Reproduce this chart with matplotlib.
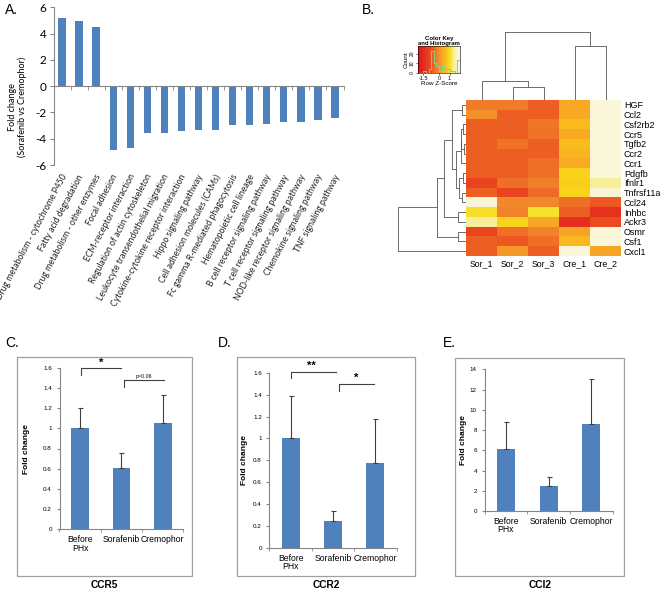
import numpy as np
import matplotlib
matplotlib.use("Agg")
import matplotlib.pyplot as plt
from matplotlib.colors import LinearSegmentedColormap
from matplotlib.patches import Rectangle

# ---------------- data ----------------
pathways = [
    "Drug metabolism - cytochrome P450",
    "Fatty acid degradation",
    "Drug metabolism - other enzymes",
    "Focal adhesion",
    "ECM-receptor interaction",
    "Regulation of actin cytoskeleton",
    "Leukocyte transendothelial migration",
    "Cytokine-cytokine receptor interaction",
    "Hippo signaling pathway",
    "Cell adhesion molecules (CAMs)",
    "Fc gamma R-mediated phagocytosis",
    "Hematopoietic cell lineage",
    "B cell receptor signaling pathway",
    "T cell receptor signaling pathway",
    "NOD-like receptor signaling pathway",
    "Chemokine signaling pathway",
    "TNF signaling pathway",
]
pathway_fold = [5.2, 4.95, 4.5, -4.85, -4.72, -3.57, -3.57, -3.45, -3.35, -3.35,
                -2.95, -2.95, -2.9, -2.73, -2.73, -2.56, -2.4]
a_yticks = [-6, -4, -2, 0, 2, 4, 6]

genes = ["HGF", "Ccl2", "Csf2rb2", "Ccr5", "Tgfb2", "Ccr2", "Ccr1", "Pdgfb", "Ifnlr1",
         "Tnfrsf11a", "Ccl24", "Inhbc", "Ackr3", "Osmr", "Csf1", "Cxcl1"]
samples = ["Sor_1", "Sor_2", "Sor_3", "Cre_1", "Cre_2"]
zscore = [
    [-0.25, -0.25, -0.6, 0.3, 1.8],
    [0.0, -0.6, -0.6, 0.3, 1.8],
    [-0.6, -0.6, -0.3, 0.6, 1.8],
    [-0.6, -0.6, -0.35, 0.3, 1.8],
    [-0.6, -0.35, -0.6, 0.6, 1.8],
    [-0.6, -0.6, -0.6, 0.5, 1.8],
    [-0.6, -0.6, -0.4, 0.35, 1.8],
    [-0.6, -0.6, -0.4, 0.9, 1.8],
    [-0.95, -0.4, -0.2, 0.85, 1.4],
    [-0.6, -0.95, -0.45, 0.9, 1.75],
    [1.8, -0.1, -0.1, -0.4, -0.7],
    [1.05, -0.15, 1.1, -0.6, -1.3],
    [1.4, 0.9, 0.3, -1.35, -0.85],
    [-0.95, -0.4, -0.15, 0.25, 1.8],
    [-0.6, -0.7, -0.4, 0.55, 1.8],
    [-0.6, 0.1, -0.6, 1.8, 0.25],
]
# dendrograms: (left, right, height) with leaf indices
col_tree = ((0, (1, 2, 0.19), 0.28), (3, 4, 0.8), 1.0)
row_tree = (
    ((((0, 1, 0.06),
       (((((2, 3, 0.04), (4, 5, 0.03), 0.07), 6, 0.08),
         ((7, 8, 0.05), (9, 10, 0.06), 0.1), 0.14)), 0.21),
      (11, 12, 0.12), 0.32),
     (13, 14, 0.12), 0.42),
    15, 1.0)
key_ticks = [-1.5, 0, 1]
count_ticks = [0, 10, 20]

groups = ["Before\nPHx", "Sorafenib", "Cremophor"]
ccr5_mean = [1.0, 0.61, 1.05]
ccr5_err = [0.2, 0.15, 0.28]
ccr2_mean = [1.0, 0.25, 0.78]
ccr2_err = [0.39, 0.09, 0.40]
ccl2_mean = [6.1, 2.5, 8.6]
ccl2_err = [2.65, 0.85, 4.45]
# significance brackets: (x_left, x_right, y_line, y_drop, label, label_x, label_y, size)
ccr5_sig = [(0.02, 1.0, 1.6, 1.53, "*", 0.5, 1.6, 8), (1.06, 2.02, 1.48, 1.41, "p=0.06", 1.55, 1.49, 3.8)]
ccr2_sig = [(0.0, 1.08, 1.61, 1.55, "**", 0.5, 1.615, 8), (1.14, 1.97, 1.50, 1.43, "*", 1.55, 1.505, 8)]

# ---------------- figure ----------------
W, H = 660, 591
fig = plt.figure(figsize=(W / 100, H / 100), dpi=100)


def px_axes(l, t, r, b):
    return fig.add_axes([l / W, 1 - b / H, (r - l) / W, (b - t) / H])


AX_GRAY = "#868686"
BLUE = "#4F81BD"
ARIAL = "Liberation Sans"
CAL = "Lato"

# ---------------- Panel A ----------------
axA = px_axes(53.5, 7.3, 343.5, 165)
xa = np.arange(len(pathways))
axA.bar(xa, pathway_fold, width=0.43, color=BLUE, zorder=2)
axA.set_xlim(-0.5, len(pathways) - 0.5)
axA.set_ylim(-6, 6)
for s in ["top", "right"]:
    axA.spines[s].set_visible(False)
axA.spines["bottom"].set_position(("data", 0))
for s in ["left", "bottom"]:
    axA.spines[s].set_color(AX_GRAY)
    axA.spines[s].set_linewidth(0.8)
axA.set_yticks(a_yticks)
axA.set_yticklabels([str(v) for v in a_yticks], fontsize=8.5, family=CAL)
axA.tick_params(axis="y", direction="out", length=3, color=AX_GRAY, pad=2)
axA.set_xticks([])
axA.set_xticks(np.arange(-0.5, len(pathways)), minor=True)
axA.tick_params(axis="x", which="minor", direction="out", length=3, color=AX_GRAY)
for i, name in enumerate(pathways):
    axA.text(i + 0.15, -6.75, name, rotation=62, ha="right", va="center",
             rotation_mode="anchor", fontsize=6.2, family=CAL, color="#222222")
axA.set_ylabel("Fold change\n(Sorafenib vs Cremophor)", fontsize=6.5, family=CAL,
               linespacing=1.1)
axA.yaxis.set_label_coords(-0.09, 0.37)
fig.text(5 / W, 1 - 10 / H, "A.", fontsize=10, family=ARIAL, va="center")

# ---------------- Panel B ----------------
stops = [(-2.0, "#E0161B"), (-1.35, "#E5301F"), (-0.95, "#E9441F"), (-0.6, "#EE5F24"),
         (-0.25, "#F07B28"), (0.0, "#F4912B"), (0.3, "#F8A823"), (0.6, "#FABB1E"),
         (0.9, "#FAD31C"), (1.1, "#F6E22C"), (1.4, "#F6EE98"), (1.8, "#FAF6DA"),
         (2.0, "#FBF8E2")]
cmap = LinearSegmentedColormap.from_list("heatkey", [((z + 2) / 4, c) for z, c in stops])

Z = np.array(zscore)
axH = px_axes(466, 100, 621, 256)
axH.imshow(Z, cmap=cmap, vmin=-2, vmax=2, aspect="auto", interpolation="nearest")
for s in axH.spines.values():
    s.set_visible(False)
axH.yaxis.tick_right()
axH.set_yticks(range(len(genes)))
axH.set_yticklabels(genes, fontsize=6.5, family=ARIAL)
axH.set_xticks(range(len(samples)))
axH.set_xticklabels(samples, fontsize=6.3, family=ARIAL)
axH.tick_params(length=0, pad=2)


def draw_tree(ax, node, vertical):
    if isinstance(node, int):
        return node + 0.5, 0.0
    l, r, h = node
    pl, hl = draw_tree(ax, l, vertical)
    pr, hr = draw_tree(ax, r, vertical)
    xs = [pl, pl, pr, pr]
    ys = [hl, h, h, hr]
    if vertical:
        ax.plot(xs, ys, color="#555555", lw=0.6, solid_capstyle="butt")
    else:
        ax.plot(ys, xs, color="#555555", lw=0.6, solid_capstyle="butt")
    return (pl + pr) / 2, h


axC = px_axes(466, 25, 621, 100)
draw_tree(axC, col_tree, True)
axC.set_xlim(0, len(samples))
axC.set_ylim(0, 75 / 68)
axC.axis("off")

axR = px_axes(396, 100, 466, 256)
draw_tree(axR, row_tree, False)
axR.set_ylim(len(genes), 0)
axR.set_xlim(70 / 68, 0)
axR.axis("off")

# color key with histogram
axK = px_axes(418, 46, 460, 73)
axK.imshow(np.linspace(-2, 2, 256)[None, :], cmap=cmap, aspect="auto",
           extent=(-2, 2, 0, 28), vmin=-2, vmax=2)
counts, edges = np.histogram(Z.ravel(), bins=np.linspace(-2, 2, 17))
axK.step(edges, np.r_[counts, counts[-1]], where="post", color="#7FD38A", lw=0.7)
axK.set_xlim(-2, 2)
axK.set_ylim(0, 28)
axK.set_xticks(key_ticks)
axK.set_xticklabels(["-1.5", "0", "1"], fontsize=4, family=ARIAL)
axK.set_yticks(count_ticks)
axK.set_yticklabels([str(v) for v in count_ticks], fontsize=3.5, family=ARIAL,
                    rotation=90, va="center")
axK.tick_params(length=1.5, width=0.4, pad=1)
for s in axK.spines.values():
    s.set_linewidth(0.4)
axK.set_xlabel("Row Z-Score", fontsize=4.5, family=ARIAL, labelpad=0)
axK.set_ylabel("Count", fontsize=4.5, family=ARIAL, labelpad=1)
axK.set_title("Color Key\nand Histogram", fontsize=4.3, family=ARIAL,
              fontweight="bold", pad=1, linespacing=1.0)
fig.text(362 / W, 1 - 10 / H, "B.", fontsize=10, family=ARIAL, va="center")


# ---------------- Panels C-E ----------------
def bar_panel(border, box, ymax, yticks, ylabels, means, errs, title, letter, letter_x,
              sig, ylabel_x):
    bl, bt, br, bb = border
    fig.patches.append(Rectangle((bl / W, 1 - bb / H), (br - bl) / W, (bb - bt) / H,
                                 transform=fig.transFigure, fill=False,
                                 edgecolor="#A0A0A0", lw=0.9))
    ax = px_axes(*box)
    x = np.arange(len(groups))
    ax.bar(x, means, width=0.42, color=BLUE, zorder=2)
    ax.errorbar(x, means, yerr=[np.zeros(len(errs)), errs], fmt="none",
                ecolor="#404040", elinewidth=0.8, capsize=1.8, capthick=0.8, zorder=3)
    ax.set_xlim(-0.5, len(groups) - 0.5)
    ax.set_ylim(0, ymax)
    for s in ["top", "right"]:
        ax.spines[s].set_visible(False)
    for s in ["left", "bottom"]:
        ax.spines[s].set_color(AX_GRAY)
        ax.spines[s].set_linewidth(0.8)
    ax.set_yticks(yticks)
    ax.set_yticklabels(ylabels, fontsize=4.5, family=ARIAL)
    ax.tick_params(axis="y", direction="out", length=2.5, color=AX_GRAY, pad=3)
    ax.set_xticks(x)
    ax.set_xticklabels(groups, fontsize=6.2, family=ARIAL, linespacing=0.95, va="top")
    ax.tick_params(axis="x", which="major", length=0, pad=4)
    ax.set_xticks(np.arange(-0.5, len(groups)), minor=True)
    ax.tick_params(axis="x", which="minor", direction="out", length=2.5, color=AX_GRAY)
    ax.set_ylabel("Fold change", fontsize=6, family=ARIAL, fontweight="bold")
    ax.yaxis.set_label_coords(ylabel_x, 0.5)
    for xl, xr, yl, yd, lab, lx, ly, fs in sig:
        ax.plot([xl, xl, xr], [yd, yl, yl], color="#404040", lw=0.8, clip_on=False)
        ax.text(lx, ly, lab, ha="center", va="bottom", fontsize=fs, family=ARIAL,
                fontweight="bold" if lab.startswith("*") else "normal", clip_on=False)
    fig.text((bl + br) / 2 / W, 1 - 585 / H, title, ha="center", va="center",
             fontsize=7.3, family=ARIAL, fontweight="bold")
    fig.text(letter_x / W, 1 - 343 / H, letter, fontsize=10, family=ARIAL, va="center")
    return ax


bar_panel((16.7, 357, 191.7, 575.5), (59.5, 367.7, 183.5, 529.3), 1.6,
          [0, 0.2, 0.4, 0.6, 0.8, 1.0, 1.2, 1.4, 1.6],
          ["0", "0.2", "0.4", "0.6", "0.8", "1", "1.2", "1.4", "1.6"],
          ccr5_mean, ccr5_err, "CCR5", "C.", 5, ccr5_sig, -0.24)
bar_panel((236.7, 357, 415, 575.5), (269.4, 372.7, 396.6, 548), 1.6,
          [0, 0.2, 0.4, 0.6, 0.8, 1.0, 1.2, 1.4, 1.6],
          ["0", "0.2", "0.4", "0.6", "0.8", "1", "1.2", "1.4", "1.6"],
          ccr2_mean, ccr2_err, "CCR2", "D.", 218, ccr2_sig, -0.17)
bar_panel((455, 358, 624.3, 575.5), (484.6, 369.3, 612.7, 511), 14,
          [0, 2, 4, 6, 8, 10, 12, 14],
          ["0", "2", "4", "6", "8", "10", "12", "14"],
          ccl2_mean, ccl2_err, "CCl2", "E.", 443, [], -0.14)

fig.savefig("out.png", dpi=100, facecolor="white")
